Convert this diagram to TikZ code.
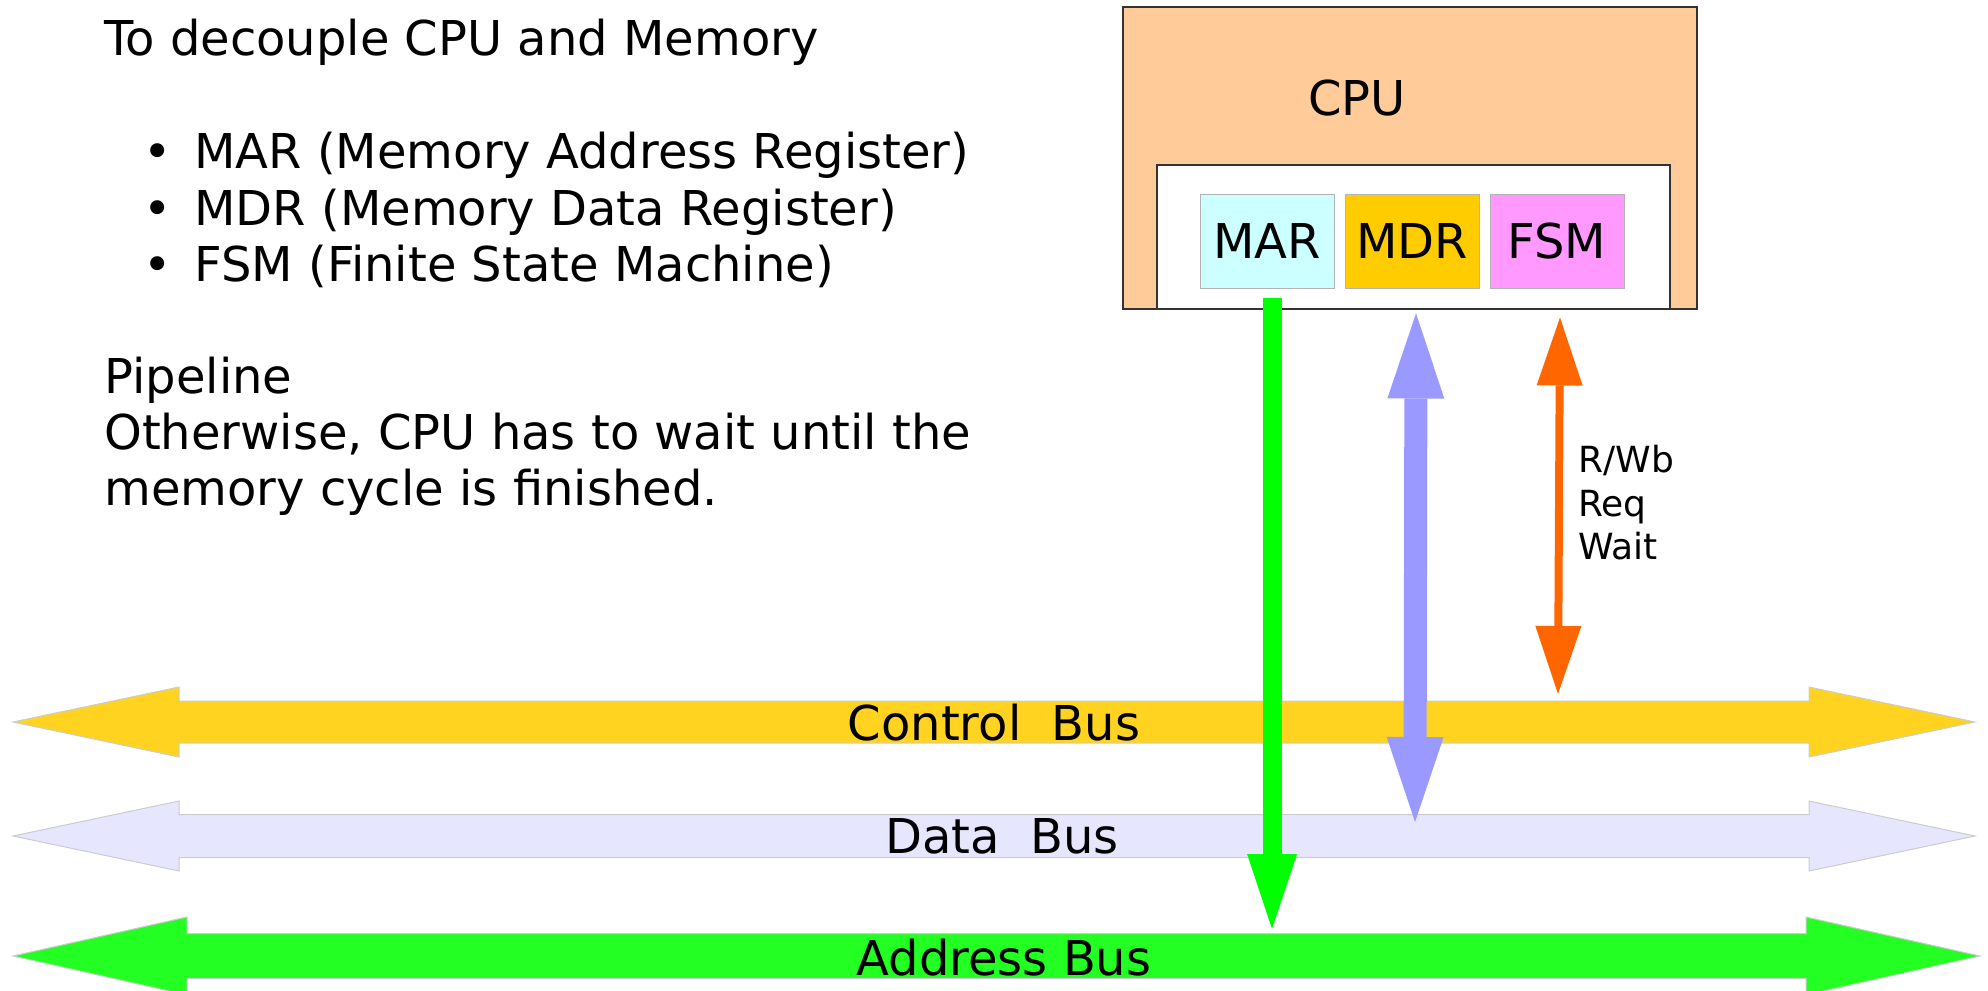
\documentclass[tikz,border=0pt]{standalone}
\usepackage{fontspec}
\setmainfont{DejaVu Sans}
\usetikzlibrary{arrows.meta,positioning}
\definecolor{cpuorange}{RGB}{255,204,153}
\definecolor{marcyan}{RGB}{204,255,255}
\definecolor{mdryellow}{RGB}{255,204,0}
\definecolor{fsmpink}{RGB}{255,153,255}
\definecolor{ctrlgold}{RGB}{255,211,32}
\definecolor{datalav}{RGB}{230,230,255}
\definecolor{addrgreen}{RGB}{35,255,35}
\definecolor{arrgreen}{RGB}{0,255,0}
\definecolor{arrblue}{RGB}{153,153,255}
\definecolor{arrorange}{RGB}{255,102,0}
\definecolor{boxgray}{RGB}{51,51,51}
\definecolor{reggray}{RGB}{179,179,179}
\definecolor{busgray}{RGB}{204,204,204}

\begin{document}
\begin{tikzpicture}[x=0.5pt,y=-0.5pt]

%
% Styles
%
\tikzstyle{txt}   = [inner sep=0pt,font=\fontsize{24pt}{28pt}\selectfont]
\tikzstyle{frame} = [draw=boxgray,line width=0.75pt,inner sep=0pt]
\tikzstyle{reg}   = [txt,draw=reggray,line width=0.5pt,minimum width=67pt,minimum height=47pt]
\tikzstyle{bus}   = [draw=busgray,line width=0.5pt]
\tikzstyle{addr}  = [arrgreen,line width=9.5pt,-{Triangle[length=37.5pt,width=25pt,line width=0pt]}]
\tikzstyle{data}  = [arrblue,line width=11.5pt,{Triangle[length=42.5pt,width=28.5pt,line width=0pt]}-{Triangle[length=42.5pt,width=28.5pt,line width=0pt]}]
\tikzstyle{ctrl}  = [arrorange,line width=4pt,{Triangle[length=34pt,width=23pt,line width=0pt]}-{Triangle[length=34pt,width=23pt,line width=0pt]}]

\useasboundingbox (0,0) rectangle (1988,991);

% text on the left
\node[txt,anchor=base west] (goal) at (104,55) {To decouple CPU and Memory};
\foreach \y/\itm [count=\i] in {168/{MAR (Memory Address Register)},
                                225/{MDR (Memory Data Register)},
                                281/{FSM (Finite State Machine)}} {
  \node[txt,anchor=base] (bul\i) at (158,\y) {•};
  \node[txt,anchor=base west] (item\i) at (194,\y) {\itm};
}
\node[txt,anchor=base west] (pipe)   at (104,393) {Pipeline};
\node[txt,anchor=base west] (other1) at (104,449) {Otherwise, CPU has to wait until the};
\node[txt,anchor=base west] (other2) at (104,505) {memory cycle is finished.};

% buses
\foreach \cy/\sh/\hh/\lb/\rb/\rt/\col in {722/21/35/179/1809/1975/ctrlgold,
                                          836/21.5/35/179/1809/1975/datalav,
                                          956/22.5/39/187/1806/1980/addrgreen}
  \draw[bus,fill=\col] (13,\cy) -- (\lb,\cy-\hh) -- (\lb,\cy-\sh) -- (\rb,\cy-\sh)
    -- (\rb,\cy-\hh) -- (\rt,\cy) -- (\rb,\cy+\hh) -- (\rb,\cy+\sh)
    -- (\lb,\cy+\sh) -- (\lb,\cy+\hh) -- cycle;

\node[txt,anchor=base] (ctrllbl) at (994,740)  {Control\ \ Bus};
\node[txt,anchor=base] (datalbl) at (1002,853) {Data\ \ Bus};
\node[txt,anchor=base] (addrlbl) at (1004,975) {Address Bus};

\coordinate (atap) at (1272,929);
\coordinate (dtap) at (1415,822);
\coordinate (ctap) at (1558,694);

% CPU
\node[frame,fill=cpuorange,minimum width=287pt,minimum height=151pt] (cpu) at (1410,158) {};
\node[txt,anchor=base] (cpulbl) at (1357,115) {CPU};
\node[frame,fill=white,minimum width=256.5pt,minimum height=72pt] (regs) at (1413.5,237) {};

\node[reg,fill=marcyan] (mar) at (1267,241) {MAR};
\node[reg,fill=mdryellow,right=5pt of mar] (mdr) {MDR};
\node[reg,fill=fsmpink,right=5pt of mdr] (fsm) {FSM};

% signals
\draw[addr] ([xshift=2.5pt,yshift=-4.5pt]mar.south) -- (atap);
\draw[data] ([xshift=2pt,yshift=-12.5pt]mdr.south) -- (dtap);
\draw[ctrl] ([xshift=1.5pt,yshift=-14.5pt]fsm.south) -- (ctap);

\node[anchor=west,align=left,inner sep=0pt,font=\fontsize{18pt}{21.75pt}\selectfont]
  (sigs) at (1578,503) {R/Wb\\Req\\Wait};

\end{tikzpicture}
\end{document}
